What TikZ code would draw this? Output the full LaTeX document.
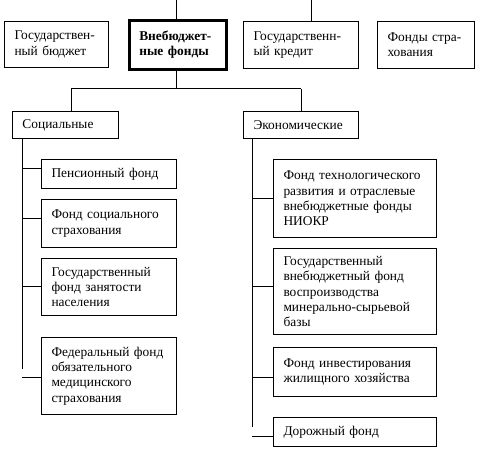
\documentclass[tikz,border=0pt]{standalone}
\usepackage{fontspec}
\setmainfont{Liberation Serif}
\begin{document}
\begin{tikzpicture}[x=1pt,y=-1pt,
  box/.style={draw, line width=1pt, anchor=north west, inner xsep=10pt, inner ysep=2pt,
    align=left, font=\fontsize{13.4}{15.3}\selectfont},
  thickbox/.style={box, line width=2.6pt, font=\fontsize{13.4}{15.3}\selectfont\bfseries},
  conn/.style={line width=1pt}]
\useasboundingbox (0,0) rectangle (477,449);
% top row
\node[box, minimum width=104pt, minimum height=46pt, text width=84pt] (gb) at (4,21) {Государствен-\\ный бюджет};
\node[thickbox, minimum width=97pt, minimum height=49pt, text width=77pt] (vf) at (128,19) {Внебюджет-\\ные фонды};
\node[box, minimum width=115pt, minimum height=47pt, text width=95pt] (gk) at (243,21) {Государственн-\\ый кредит};
\node[box, minimum width=97pt, minimum height=47pt, text width=77pt] (fs) at (377,21) {Фонды стра-\\хования};
% second level
\node[box, minimum width=106pt, minimum height=27pt, text width=86pt] (soc) at (12,111) {Социальные};
\node[box, minimum width=115pt, minimum height=27pt, text width=95pt] (eco) at (243,111) {Экономические};
% left column
\node[box, minimum width=135pt, minimum height=29pt, text width=115pt] (l1) at (41,159) {Пенсионный фонд};
\node[box, minimum width=135pt, minimum height=48pt, text width=115pt] (l2) at (41,199) {Фонд социального\\страхования};
\node[box, minimum width=135pt, minimum height=57pt, text width=115pt] (l3) at (41,258) {Государственный\\фонд занятости\\населения};
\node[box, minimum width=135pt, minimum height=77pt, text width=115pt] (l4) at (41,337) {Федеральный фонд\\обязательного\\медицинского\\страхования};
% right column
\node[box, minimum width=163pt, minimum height=78pt, text width=143pt] (r1) at (273,159) {Фонд технологического\\развития и отраслевые\\внебюджетные фонды\\НИОКР};
\node[box, minimum width=163pt, minimum height=86pt, text width=143pt] (r2) at (273,248) {Государственный\\внебюджетный фонд\\воспроизводства\\минерально-сырьевой\\базы};
\node[box, minimum width=163pt, minimum height=49pt, text width=143pt] (r3) at (273,347) {Фонд инвестирования\\жилищного хозяйства};
\node[box, minimum width=163pt, minimum height=29pt, text width=143pt] (r4) at (273,417) {Дорожный фонд};
% connectors
\coordinate (t1) at (176.5,0);
\coordinate (t2) at (311,0);
\coordinate (j) at (176.5,89);
\coordinate (jl) at (71,89);
\coordinate (jr) at (301,89);
\draw[conn] (t1) -- (t1 |- vf.north);
\draw[conn] (t2) -- (t2 |- gk.north);
\draw[conn] (j |- vf.south) -- (j);
\draw[conn] (jl) -- (jr);
\draw[conn] (jl) -- (jl |- soc.north);
\draw[conn] (jr) -- (jr |- eco.north);
% left trunk
\coordinate (lt) at (22,138);
\coordinate (lb) at (22,369);
\draw[conn] (lt |- soc.south) -- (lb);
\coordinate (s1) at (22,169);
\coordinate (s2) at (22,219);
\coordinate (s3) at (22,287);
\coordinate (s4) at (22,377);
\draw[conn] (s1) -- (s1 -| l1.west);
\draw[conn] (s2) -- (s2 -| l2.west);
\draw[conn] (s3) -- (s3 -| l3.west);
\draw[conn] (s4) -- (s4 -| l4.west);
% right trunk
\coordinate (rt) at (252,138);
\coordinate (rb) at (252,427);
\draw[conn] (rt |- eco.south) -- (rb);
\coordinate (e1) at (252,199);
\coordinate (e2) at (252,287);
\coordinate (e3) at (252,377);
\coordinate (e4) at (252,436);
\draw[conn] (e1) -- (e1 -| r1.west);
\draw[conn] (e2) -- (e2 -| r2.west);
\draw[conn] (e3) -- (e3 -| r3.west);
\draw[conn] (e4) -- (e4 -| r4.west);
\end{tikzpicture}
\end{document}
